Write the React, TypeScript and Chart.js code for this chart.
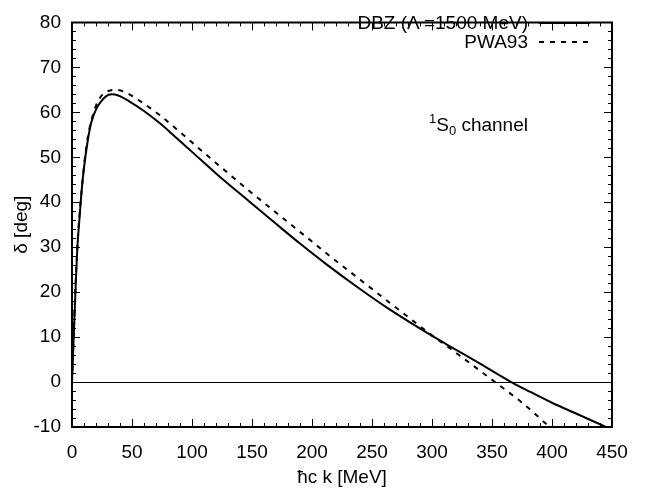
import { useEffect, useRef } from 'react';
import { Chart, registerables } from 'chart.js';

Chart.register(...registerables);

const FONT = '"Liberation Sans", Arial, Helvetica, sans-serif';

// DBZ (Λ = 1500 MeV) phase shift
const dbzK = [0, 1, 2, 3, 4.4, 6.4, 8.3, 10, 13.3, 16, 20.5, 23, 28, 33, 38, 48, 60, 73, 85, 100, 120, 148, 170, 190, 211, 240, 265, 298, 312, 340, 366, 382, 400, 420, 445];
const dbzDelta = [0, 7, 14, 21, 29.5, 37, 43.4, 47.7, 54, 57.7, 60.9, 62, 63.5, 64.0, 63.8, 62.4, 60.3, 57.6, 54.8, 51.2, 46.4, 40.1, 35.2, 30.8, 26.4, 20.7, 16.1, 10.6, 8.4, 4.1, 0, -2.2, -4.6, -7.0, -10];

// PWA93 phase shift
const pwaK = [0, 2, 4.4, 6.4, 10, 13, 16, 20, 25, 30, 37, 45, 55, 73, 87, 110, 146, 170, 197, 214, 240, 265, 298, 321, 352.5, 376, 398];
const pwaDelta = [0, 15, 30, 37.5, 48, 54.2, 58, 61.5, 63.8, 64.7, 65, 64.4, 62.8, 59.4, 56.3, 51.0, 42.9, 37.7, 31.9, 28.2, 22.8, 17.6, 10.8, 6.3, 0, -4.8, -10];

const xTicks = [0, 50, 100, 150, 200, 250, 300, 350, 400, 450];
const yTicks = [-10, 0, 10, 20, 30, 40, 50, 60, 70, 80];
const xMinorStep = 10;
const yMinorStep = 2;

const seriesLabels = ['DBZ (Λ =1500 MeV)', 'PWA93'];
const xTitle = 'ħc k [MeV]';
const yTitle = 'δ [deg]';

const LEG_Y = [23, 42];

const framePlugin = {
  id: 'gnuframe',
  beforeDatasetsDraw(chart: any) {
    const { ctx, chartArea } = chart;
    const y = chart.scales.y;
    const y0 = Math.round(y.getPixelForValue(0)) + 0.5;
    ctx.save();
    ctx.strokeStyle = '#000';
    ctx.lineWidth = 1;
    ctx.setLineDash([]);
    ctx.beginPath();
    ctx.moveTo(chartArea.left, y0);
    ctx.lineTo(chartArea.right, y0);
    ctx.stroke();
    ctx.restore();
  },
  afterDraw(chart: any) {
    const { ctx, chartArea } = chart;
    const { left, right, top, bottom } = chartArea;
    const xs = chart.scales.x;
    const ys = chart.scales.y;
    ctx.save();
    ctx.setLineDash([]);
    ctx.strokeStyle = '#000';
    ctx.fillStyle = '#000';
    ctx.lineWidth = 1;
    // ticks on all four sides, pointing inward
    ctx.beginPath();
    for (let v = xs.min; v <= xs.max + 1e-9; v += xMinorStep) {
      const px = Math.round(xs.getPixelForValue(v)) + 0.5;
      const len = xTicks.includes(v) ? 8 : 4;
      ctx.moveTo(px, bottom);
      ctx.lineTo(px, bottom - len);
      ctx.moveTo(px, top);
      ctx.lineTo(px, top + len);
    }
    for (let v = ys.min; v <= ys.max + 1e-9; v += yMinorStep) {
      const py = Math.round(ys.getPixelForValue(v)) + 0.5;
      const len = yTicks.includes(v) ? 8 : 4;
      ctx.moveTo(left, py);
      ctx.lineTo(left + len, py);
      ctx.moveTo(right, py);
      ctx.lineTo(right - len, py);
    }
    ctx.stroke();
    // border
    ctx.beginPath();
    ctx.lineWidth = 2;
    ctx.rect(left, top, right - left, bottom - top);
    ctx.stroke();

    // legend samples
    ctx.lineWidth = 2;
    ctx.beginPath();
    ctx.moveTo(539, LEG_Y[0]);
    ctx.lineTo(590, LEG_Y[0]);
    ctx.stroke();
    ctx.setLineDash([5, 6]);
    ctx.beginPath();
    ctx.moveTo(539, LEG_Y[1]);
    ctx.lineTo(590, LEG_Y[1]);
    ctx.stroke();
    ctx.setLineDash([]);

    // 1S0 channel label
    ctx.textAlign = 'left';
    ctx.textBaseline = 'alphabetic';
    let x = 429;
    const base = 131;
    ctx.font = `13px ${FONT}`;
    ctx.fillText('1', x, base - 8);
    x += ctx.measureText('1').width;
    ctx.font = `19px ${FONT}`;
    ctx.fillText('S', x, base);
    x += ctx.measureText('S').width;
    ctx.font = `13px ${FONT}`;
    ctx.fillText('0', x, base + 4);
    x += ctx.measureText('0').width;
    ctx.font = `19px ${FONT}`;
    ctx.fillText(' channel', x, base);

    // axis titles
    ctx.textAlign = 'center';
    ctx.textBaseline = 'middle';
    ctx.fillText(xTitle, (left + right) / 2, 478);
    ctx.translate(22, (top + bottom) / 2);
    ctx.rotate(-Math.PI / 2);
    ctx.fillText(yTitle, 0, 0);
    ctx.restore();
  },
};

const legendTextStyle = (cy: number): React.CSSProperties => ({
  position: 'absolute',
  right: 667 - 528,
  top: cy - 11,
  height: 22,
  lineHeight: '22px',
  fontFamily: FONT,
  fontSize: 19,
  color: '#000',
  whiteSpace: 'nowrap',
  textDecoration: 'none',
});

export default function App() {
  const ref = useRef<HTMLCanvasElement>(null);
  useEffect(() => {
    document.body.style.margin = '0';
    const canvas = ref.current!;
    const chart = new Chart(canvas, {
      type: 'line',
      data: {
        datasets: [
          {
            label: seriesLabels[0],
            data: dbzK.map((k, i) => ({ x: k, y: dbzDelta[i] })),
            borderColor: '#000',
            borderWidth: 2,
            pointRadius: 0,
            fill: false,
            cubicInterpolationMode: 'monotone',
          },
          {
            label: seriesLabels[1],
            data: pwaK.map((k, i) => ({ x: k, y: pwaDelta[i] })),
            borderColor: '#000',
            borderWidth: 2,
            borderDash: [5, 6],
            pointRadius: 0,
            fill: false,
            cubicInterpolationMode: 'monotone',
          },
        ],
      },
      options: {
        responsive: false,
        animation: false,
        devicePixelRatio: 1,
        layout: { padding: { top: 6, right: 55, left: 0, bottom: 0 } },
        plugins: { legend: { display: false }, tooltip: { enabled: false } },
        scales: {
          x: {
            type: 'linear',
            min: 0,
            max: 450,
            afterBuildTicks: (s: any) => {
              s.ticks = xTicks.map((v) => ({ value: v }));
            },
            afterFit: (s: any) => {
              s.height = 64;
            },
            grid: { display: false, drawTicks: false },
            border: { display: false },
            ticks: {
              font: { family: FONT, size: 19 },
              color: '#000',
              padding: 14,
              maxRotation: 0,
              autoSkip: false,
            },
          },
          y: {
            type: 'linear',
            min: -10,
            max: 80,
            afterBuildTicks: (s: any) => {
              s.ticks = yTicks.map((v) => ({ value: v }));
            },
            afterFit: (s: any) => {
              s.width = 72;
            },
            grid: { display: false, drawTicks: false },
            border: { display: false },
            ticks: {
              font: { family: FONT, size: 19 },
              color: '#000',
              padding: 11,
              autoSkip: false,
            },
          },
        },
      },
      plugins: [framePlugin],
    });
    return () => chart.destroy();
  }, []);
  return (
    <div style={{ position: 'relative', width: 667, height: 491 }}>
      <canvas ref={ref} width={667} height={491} style={{ display: 'block' }} />
      <div style={legendTextStyle(LEG_Y[0])}>{seriesLabels[0]}</div>
      <div style={legendTextStyle(LEG_Y[1])}>{seriesLabels[1]}</div>
    </div>
  );
}
